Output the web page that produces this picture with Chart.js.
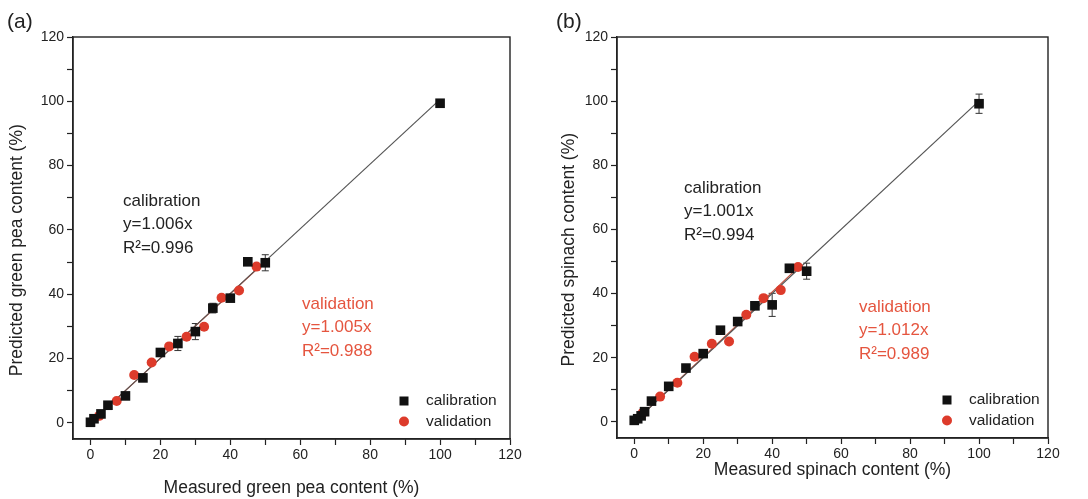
<!DOCTYPE html>
<html>
<head>
<meta charset="utf-8">
<script src="https://cdn.jsdelivr.net/npm/chart.js@4.4.0/dist/chart.umd.min.js"></script>
<style>
  body { margin: 0; background: #fff; }
  #wrap { position: relative; width: 1088px; height: 499px; }
  .panel { position: absolute; top: 0; height: 499px; }
</style>
</head>
<body>
<div id="wrap">
  <div class="panel" style="left:0;width:540px"><canvas id="peaChart"></canvas></div>
  <div class="panel" style="left:540px;width:548px"><canvas id="spinachChart"></canvas></div>
</div>
<script>
// axis ticks (labels only on the major ones)
const majorTicks = [0, 20, 40, 60, 80, 100, 120];
const minorTicks = [10, 30, 50, 70, 90, 110];

// (a) green pea
const peaCalX = [0, 1, 3, 5, 10, 15, 20, 25, 30, 35, 40, 45, 50, 100];
const peaCalY = [0.2, 1.3, 2.8, 5.5, 8.4, 14.0, 21.9, 24.7, 28.4, 35.7, 38.8, 50.1, 49.8, 99.4];
const peaCalErr = [0.3, 0.3, 0.5, 0.5, 0.8, 0.8, 0.8, 2.2, 2.5, 1.5, 0.8, 1.0, 2.5, 0.8];
const peaValX = [2.5, 7.5, 12.5, 17.5, 22.5, 27.5, 32.5, 37.5, 42.5, 47.5];
const peaValY = [2.2, 6.8, 14.9, 18.8, 23.8, 26.8, 29.9, 38.9, 41.2, 48.6];
const peaCalFitX = [0, 100];
const peaCalFitY = [0, 100.6];
const peaValFitX = [0, 47.5];
const peaValFitY = [0, 47.7];

// (b) spinach
const spinCalX = [0, 1, 2, 3, 5, 10, 15, 20, 25, 30, 35, 40, 45, 50, 100];
const spinCalY = [0.5, 1.0, 1.9, 3.2, 6.5, 11.1, 16.8, 21.3, 28.6, 31.3, 36.2, 36.5, 47.9, 47.0, 99.2];
const spinCalErr = [0.3, 0.3, 0.3, 0.5, 0.8, 0.8, 0.8, 0.8, 0.8, 0.8, 0.8, 3.6, 1.2, 2.5, 3.0];
const spinValX = [2.5, 7.5, 12.5, 17.5, 22.5, 27.5, 32.5, 37.5, 42.5, 47.5];
const spinValY = [2.9, 7.9, 12.2, 20.3, 24.4, 25.1, 33.4, 38.6, 41.1, 48.3];
const spinCalFitX = [0, 100];
const spinCalFitY = [0, 100.1];
const spinValFitX = [0, 47.5];
const spinValFitY = [0, 48.1];

const FONT = 'Liberation Sans, Arial, Helvetica, sans-serif';
const INK = '#222';
const RED = '#dd3b2b';
const RED_TEXT = '#e5553f';

Chart.defaults.font.family = FONT;
Chart.defaults.color = INK;

const toPoints = (xs, ys) => xs.map((x, i) => ({ x: x, y: ys[i] }));

const panelDecor = {
  id: 'panelDecor',
  beforeDatasetsDraw(chart) {
    const ctx = chart.ctx, xs = chart.scales.x, ys = chart.scales.y;
    chart.data.datasets.forEach(ds => {
      if (!ds.errors) return;
      ctx.save();
      ctx.strokeStyle = '#333';
      ctx.lineWidth = 1;
      ds.data.forEach((p, i) => {
        const px = xs.getPixelForValue(p.x);
        const top = ys.getPixelForValue(p.y + ds.errors[i]);
        const bot = ys.getPixelForValue(p.y - ds.errors[i]);
        ctx.beginPath();
        ctx.moveTo(px, top); ctx.lineTo(px, bot);
        ctx.moveTo(px - 3.5, top); ctx.lineTo(px + 3.5, top);
        ctx.moveTo(px - 3.5, bot); ctx.lineTo(px + 3.5, bot);
        ctx.stroke();
      });
      ctx.restore();
    });
  },
  afterDraw(chart, args, opts) {
    const ctx = chart.ctx, ca = chart.chartArea;
    ctx.save();
    // frame
    ctx.strokeStyle = INK;
    ctx.lineWidth = 1.4;
    ctx.strokeRect(ca.left, ca.top, ca.right - ca.left, ca.bottom - ca.top);

    // panel letter
    ctx.fillStyle = INK;
    ctx.textBaseline = 'middle';
    ctx.textAlign = 'left';
    ctx.font = '21px ' + FONT;
    ctx.fillText(opts.letter, opts.letterPos[0], opts.letterPos[1]);

    // fit equations
    ctx.font = '17px ' + FONT;
    opts.calText.forEach((t, i) => ctx.fillText(t, opts.calPos[0], opts.calPos[1] + i * 23.5));
    ctx.fillStyle = RED_TEXT;
    opts.valText.forEach((t, i) => ctx.fillText(t, opts.valPos[0], opts.valPos[1] + i * 23.5));

    // legend
    const lx = opts.legendPos[0], ly = opts.legendPos[1];
    ctx.fillStyle = '#111';
    ctx.fillRect(lx - 4.5, ly - 4.5, 9, 9);
    ctx.fillStyle = RED;
    ctx.beginPath();
    ctx.arc(lx, ly + 20.5, 5, 0, Math.PI * 2);
    ctx.fill();
    ctx.fillStyle = INK;
    ctx.font = '15.5px ' + FONT;
    ctx.fillText('calibration', lx + 22, ly);
    ctx.fillText('validation', lx + 22, ly + 20.5);
    ctx.restore();
  }
};

function axis(title, fitSize, titlePad, horizontal) {
  return {
    type: 'linear',
    min: -5,
    max: 120,
    afterBuildTicks: scale => {
      scale.ticks = majorTicks.concat(minorTicks).sort((a, b) => a - b).map(v => ({ value: v }));
    },
    afterFit: scale => {
      if (horizontal) scale.height = fitSize; else scale.width = fitSize;
    },
    ticks: {
      autoSkip: false,
      maxRotation: 0,
      padding: horizontal ? 2 : 3,
      color: INK,
      font: { size: 14 },
      callback: v => (majorTicks.includes(v) ? String(v) : '')
    },
    grid: {
      drawOnChartArea: false,
      drawTicks: true,
      tickLength: 6,
      tickColor: INK,
      tickWidth: 1.2
    },
    border: { display: true, color: INK, width: 1.4 },
    title: {
      display: true,
      text: title,
      color: INK,
      font: { size: 17.5 },
      padding: horizontal ? { top: 0, bottom: titlePad } : { top: titlePad, bottom: 0 }
    }
  };
}

function makePanel(canvasId, p) {
  return new Chart(document.getElementById(canvasId), {
    type: 'scatter',
    data: {
      datasets: [{
        label: 'calibration',
        data: toPoints(p.calX, p.calY),
        errors: p.calErr,
        pointStyle: 'rect',
        pointRadius: 6.8,
        backgroundColor: '#111',
        borderColor: '#111',
        borderWidth: 0
      }, {
        label: 'validation',
        data: toPoints(p.valX, p.valY),
        pointStyle: 'circle',
        pointRadius: 5,
        backgroundColor: RED,
        borderColor: RED,
        borderWidth: 0
      }, {
        label: 'calibration fit',
        data: toPoints(p.calFitX, p.calFitY),
        showLine: true,
        pointRadius: 0,
        borderColor: '#555',
        borderWidth: 1.2
      }, {
        label: 'validation fit',
        data: toPoints(p.valFitX, p.valFitY),
        showLine: true,
        pointRadius: 0,
        borderColor: '#c4503c',
        borderWidth: 1.2
      }]
    },
    options: {
      responsive: true,
      maintainAspectRatio: false,
      animation: false,
      layout: { padding: { left: 0, top: 37, right: p.padRight, bottom: 0 } },
      scales: {
        x: axis(p.xTitle, p.xHeight, p.xTitlePad, true),
        y: axis(p.yTitle, p.yWidth, p.yTitlePad, false)
      },
      plugins: {
        legend: { display: false },
        tooltip: { enabled: false },
        panelDecor: p.decor
      }
    },
    plugins: [panelDecor]
  });
}

document.addEventListener('DOMContentLoaded', () => {
  makePanel('peaChart', {
    calX: peaCalX, calY: peaCalY, calErr: peaCalErr,
    valX: peaValX, valY: peaValY,
    calFitX: peaCalFitX, calFitY: peaCalFitY,
    valFitX: peaValFitX, valFitY: peaValFitY,
    xTitle: 'Measured green pea content (%)',
    yTitle: 'Predicted green pea content (%)     ',
    padRight: 30, xHeight: 60, yWidth: 73,
    xTitlePad: 0, yTitlePad: 7,
    decor: {
      letter: '(a)', letterPos: [7, 22],
      calText: ['calibration', 'y=1.006x', 'R\u00b2=0.996'], calPos: [123, 201],
      valText: ['validation', 'y=1.005x', 'R\u00b2=0.988'], valPos: [302, 304],
      legendPos: [404, 401]
    }
  });

  makePanel('spinachChart', {
    calX: spinCalX, calY: spinCalY, calErr: spinCalErr,
    valX: spinValX, valY: spinValY,
    calFitX: spinCalFitX, calFitY: spinCalFitY,
    valFitX: spinValFitX, valFitY: spinValFitY,
    xTitle: 'Measured spinach content (%)',
    yTitle: 'Predicted spinach content (%)     ',
    padRight: 40, xHeight: 61, yWidth: 77,
    xTitlePad: 18, yTitlePad: 19,
    decor: {
      letter: '(b)', letterPos: [16, 22],
      calText: ['calibration', 'y=1.001x', 'R\u00b2=0.994'], calPos: [144, 188],
      valText: ['validation', 'y=1.012x', 'R\u00b2=0.989'], valPos: [319, 307],
      legendPos: [407, 400]
    }
  });
});
</script>
</body>
</html>
